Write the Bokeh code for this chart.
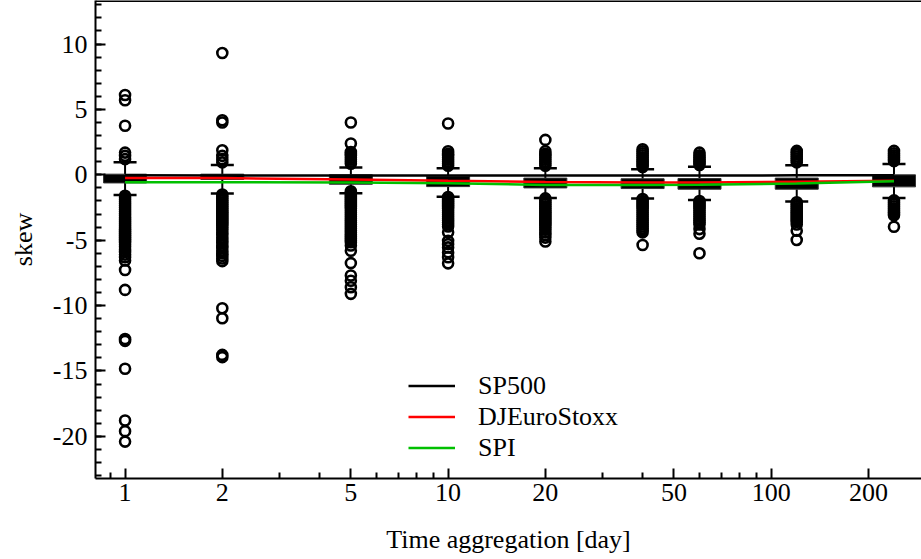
from bokeh.plotting import figure
from bokeh.models import FixedTicker, PrintfTickFormatter, Span, Range1d
from bokeh.embed import file_html
from bokeh.resources import INLINE

# ---------------- data ----------------
windows = [1, 2, 5, 10, 20, 40, 60, 120, 240]
box_q3 = [0.05, 0.05, 0.0, -0.1, -0.25, -0.3, -0.28, -0.25, 0.0]
box_q1 = [-0.62, -0.35, -0.72, -0.9, -1.0, -1.05, -1.1, -1.1, -0.92]
whisker_hi = [0.97, 0.76, 0.56, 0.51, 0.51, 0.43, 0.61, 0.74, 0.82]
whisker_lo = [-1.55, -1.43, -1.40, -1.68, -1.78, -1.81, -1.93, -2.04, -1.78]

out_1 = [1.2, 1.45, 1.7, 3.75, 5.7, 6.1,
         -1.6, -1.75, -1.9, -2.05, -2.2, -2.35, -2.5, -2.65, -2.8, -2.95, -3.1, -3.25,
         -3.4, -3.55, -3.7, -3.85, -4.0, -4.15, -4.3, -4.45, -4.6, -4.75, -4.9, -5.05,
         -5.2, -5.35, -5.5, -5.7, -5.9, -6.1, -6.3, -6.55, -7.28, -8.8, -12.55, -12.7,
         -14.83, -18.78, -19.6, -20.4]
out_2 = [0.95, 1.2, 1.45, 1.88, 4.0, 4.17, 9.31,
         -1.5, -1.65, -1.8, -1.95, -2.1, -2.25, -2.4, -2.55, -2.7, -2.85, -3.0, -3.15,
         -3.3, -3.45, -3.6, -3.75, -3.9, -4.05, -4.2, -4.4, -4.6, -4.8, -5.0, -5.2,
         -5.4, -5.6, -5.8, -6.0, -6.2, -6.4, -6.6, -10.2, -10.97, -13.77, -13.94]
out_5 = [0.85, 1.0, 1.15, 1.3, 1.45, 1.6, 1.75, 2.4, 4.0,
         -1.25, -1.4, -1.55, -1.7, -1.85, -2.0, -2.15, -2.3, -2.45, -2.6, -2.75, -2.9,
         -3.05, -3.2, -3.35, -3.5, -3.65, -3.8, -3.95, -4.1, -4.25, -4.4, -4.55, -4.7,
         -4.85, -5.0, -5.15, -5.4, -5.8, -6.75, -7.7, -8.1, -8.6, -9.1]
out_10 = [0.7, 0.85, 1.0, 1.15, 1.3, 1.45, 1.6, 1.8, 3.92,
          -1.7, -1.85, -2.0, -2.15, -2.3, -2.45, -2.6, -2.75, -2.9, -3.05, -3.2, -3.35,
          -3.5, -3.65, -3.8, -3.95, -4.4, -5.05, -5.3, -5.55, -5.93, -6.3, -6.77]
out_20 = [0.7, 0.85, 1.0, 1.15, 1.3, 1.45, 1.6, 1.8, 2.67,
          -1.8, -1.95, -2.1, -2.25, -2.4, -2.55, -2.7, -2.85, -3.0, -3.15, -3.3, -3.45,
          -3.6, -3.75, -3.9, -4.05, -4.2, -4.4, -4.6, -4.8, -5.1]
out_40 = [0.6, 0.75, 0.9, 1.05, 1.2, 1.35, 1.5, 1.65, 1.8, 1.96,
          -1.85, -2.0, -2.15, -2.3, -2.45, -2.6, -2.75, -2.9, -3.05, -3.2, -3.35, -3.5,
          -3.65, -3.8, -3.95, -4.1, -4.25, -4.4, -5.37]
out_60 = [0.75, 0.9, 1.05, 1.2, 1.35, 1.5, 1.7,
          -2.0, -2.15, -2.3, -2.45, -2.6, -2.75, -2.9, -3.05, -3.2, -3.35, -3.5, -3.65,
          -3.8, -4.15, -4.5, -6.0]
out_120 = [0.95, 1.1, 1.25, 1.4, 1.55, 1.7, 1.83,
           -2.1, -2.25, -2.4, -2.55, -2.7, -2.85, -3.0, -3.15, -3.3, -3.45, -3.6,
           -3.8, -4.27, -4.98]
out_240 = [1.05, 1.2, 1.35, 1.5, 1.65, 1.83,
           -1.95, -2.1, -2.25, -2.4, -2.55, -2.7, -2.85, -3.0, -3.1, -3.97]
outliers = [out_1, out_2, out_5, out_10, out_20, out_40, out_60, out_120, out_240]

sp500_mean = [-0.04, -0.05, -0.05, -0.06, -0.06, -0.06, -0.05, -0.04, -0.03]
djeurostoxx_mean = [-0.24, -0.25, -0.35, -0.46, -0.55, -0.58, -0.58, -0.52, -0.45]
spi_mean = [-0.57, -0.56, -0.58, -0.64, -0.78, -0.78, -0.76, -0.67, -0.49]

x_major = [1, 2, 5, 10, 20, 50, 100, 200]
x_minor = [0.9, 3, 4, 6, 7, 8, 9, 30, 40, 60, 70, 80, 90, 300]
y_major = [-20, -15, -10, -5, 0, 5, 10]

X_RANGE = (0.81, 292.0)
Y_RANGE = (-23.22, 13.33)

FONT = "Liberation Serif"

# ---------------- figure ----------------
p = figure(width=921, height=559, x_axis_type="log",
           x_range=Range1d(*X_RANGE), y_range=Range1d(*Y_RANGE),
           output_backend="svg", toolbar_location=None,
           min_border_left=95, min_border_bottom=81, min_border_top=0, min_border_right=0)
p.outline_line_color = None
p.grid.visible = False
p.background_fill_color = "white"

# top frame line
p.add_layout(Span(location=Y_RANGE[1], dimension="width", line_color="black", line_width=3))

# whiskers
p.segment(x0=windows, y0=box_q3, x1=windows, y1=whisker_hi, line_color="black", line_width=2)
p.segment(x0=windows, y0=box_q1, x1=windows, y1=whisker_lo, line_color="black", line_width=2)
p.scatter(x=windows, y=whisker_hi, marker="dash", size=23, line_color="black", line_width=2.5)
p.scatter(x=windows, y=whisker_lo, marker="dash", size=23, line_color="black", line_width=2.5)

# outliers
ox, oy = [], []
for w, vals in zip(windows, outliers):
    for v in vals:
        ox.append(w)
        oy.append(v)
p.scatter(x=ox, y=oy, marker="circle", size=10, fill_color=None,
          line_color="black", line_width=2.6)

# boxes
mid = [(a + b) / 2 for a, b in zip(box_q1, box_q3)]
hgt = [b - a for a, b in zip(box_q1, box_q3)]
p.rect(x=windows, y=mid, width=43, width_units="screen", height=hgt,
       fill_color="black", line_color="#333333", line_width=1)

# mean lines
p.line(windows, sp500_mean, line_color="black", line_width=2.5, legend_label="SP500")
p.line(windows, djeurostoxx_mean, line_color="#ff0000", line_width=2.5, legend_label="DJEuroStoxx")
p.line(windows, spi_mean, line_color="#00c000", line_width=2.5, legend_label="SPI")

# axes
for ax in (p.xaxis[0], p.yaxis[0]):
    ax.axis_line_width = 2
    ax.axis_line_color = "black"
    ax.major_tick_line_width = 2
    ax.minor_tick_line_width = 2
    ax.major_tick_in = 10
    ax.major_tick_out = 0
    ax.minor_tick_in = 6
    ax.minor_tick_out = 0
    ax.major_label_text_font = FONT
    ax.major_label_text_font_size = "26px"
    ax.major_label_text_color = "black"
    ax.axis_label_text_font = FONT
    ax.axis_label_text_font_size = "26px"
    ax.axis_label_text_font_style = "normal"
    ax.axis_label_text_color = "black"

p.xaxis.ticker = FixedTicker(ticks=x_major, minor_ticks=x_minor)
p.xaxis.formatter = PrintfTickFormatter(format="%d")
p.xaxis.axis_label = "Time aggregation [day]"
p.xaxis.major_label_standoff = 5
p.xaxis.axis_label_standoff = 21
p.xaxis.major_label_text_line_height = 1.0
p.xaxis.axis_label_text_line_height = 1.0

p.yaxis.ticker = FixedTicker(ticks=y_major, minor_ticks=list(range(-23, 14)))
p.yaxis.formatter = PrintfTickFormatter(format="%d")
p.yaxis.axis_label = "skew"
p.yaxis.major_label_standoff = 8
p.yaxis.axis_label_standoff = 12

# legend
lg = p.legend[0]
lg.location = (313, 15)
lg.border_line_color = None
lg.background_fill_alpha = 0
lg.label_text_font = FONT
lg.label_text_font_size = "26px"
lg.label_text_color = "black"
lg.glyph_width = 47
lg.glyph_height = 31
lg.label_height = 31
lg.label_standoff = 23
lg.spacing = 0
lg.padding = 0
lg.margin = 0

open("out.html", "w").write(file_html(p, INLINE))
